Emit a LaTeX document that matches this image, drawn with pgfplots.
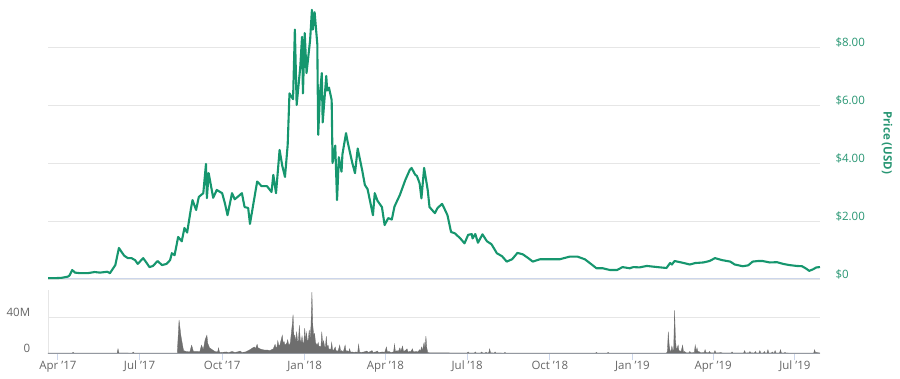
\documentclass[border=0pt]{standalone}
\usepackage{fontspec}
\setmainfont{Open Sans}
\usepackage{pgfplots}
\pgfplotsset{compat=1.18}
\definecolor{pricegreen}{RGB}{22,150,110}
\definecolor{lblgreen}{RGB}{40,150,115}
\definecolor{gridgray}{RGB}{230,230,230}
\definecolor{axisgray}{RGB}{204,214,235}
\definecolor{volgray}{RGB}{110,110,110}
\definecolor{ticktext}{RGB}{102,102,102}
\begin{document}
\begin{tikzpicture}[font=\fontsize{11.5}{13}\selectfont]
\path[use as bounding box] (0,0) rectangle (900pt,379pt);
% ---------- price panel ----------
\begin{axis}[
  at={(48pt,100pt)}, anchor=south west, scale only axis,
  width=772pt, height=272.6pt,
  xmin=-11, xmax=849, ymin=0, ymax=9.4,
  axis x line*=bottom, axis y line*=right,
  x axis line style={draw=axisgray, line width=1pt, -},
  y axis line style={draw=none},
  xtick=\empty,
  ytick={0,2,4,6,8},
  yticklabels={\$0,\$2.00,\$4.00,\$6.00,\$8.00},
  major tick length=0pt,
  ymajorgrids, grid style={gridgray, line width=0.8pt},
  yticklabel style={anchor=west, xshift=12pt, yshift=5pt, text=lblgreen},
  clip=false,
]
\addplot[pricegreen, line width=2.1pt, line join=round] coordinates {
(-11,0.03)(-3,0.03)(4,0.04)(11,0.08)(13,0.12)(16,0.31)(19,0.22)(25,0.2)(33,0.2)
(41,0.24)(47,0.22)(55,0.25)(58,0.2)(64,0.48)(68,1.07)(71,0.93)(74,0.8)(78,0.72)
(82,0.72)(86,0.65)(89,0.52)(95,0.72)(99,0.55)(102,0.41)(106,0.45)(111,0.62)
(116,0.48)(121,0.52)(125,0.65)(127,0.89)(130,0.82)(134,1.45)(138,1.3)(141,1.76)
(144,1.6)(148,2.38)(150,2.72)(154,2.38)(157,2.83)(162,2.96)(165,3.97)(166,2.79)
(168,3.65)(173,2.8)(177,3.07)(183,2.96)(186,2.62)(189,2.2)(194,2.96)(197,2.75)
(201,2.85)(205,2.96)(208,2.48)(212,2.45)(214,1.9)(217,2.45)(222,3.36)(227,3.2)
(233,3.2)(238,3.0)(240,3.59)(243,2.96)(247,4.45)(250,3.9)(253,3.52)(256,4.62)
(258,6.4)(262,6.2)(264,8.6)(266,6.0)(270,7.3)(272,8.35)(273,6.4)(275,8.48)(277,7.1)
(281,8.24)(283,9.28)(284,8.6)(286,9.2)(289,8.1)(290,4.97)(292,6.4)(294,7.1)(295,5.4)
(299,7.0)(300,6.5)(302,6.6)(305,6.17)(306,4.0)(309,4.6)(311,2.72)(313,4.2)
(316,3.7)(317,4.3)(321,5.03)(323,4.7)(328,4.0)(331,3.65)(334,4.5)(339,3.75)
(342,3.24)(345,3.1)(351,2.2)(353,2.96)(356,2.7)(361,2.48)(364,1.86)(368,2.1)
(372,2.05)(375,2.5)(381,2.9)(387,3.41)(392,3.76)(394,3.83)(398,3.6)(400,3.55)
(403,3.3)(405,2.78)(408,3.83)(412,3.07)(414,2.48)(420,2.27)(423,2.45)(428,2.59)
(431,2.4)(434,2.2)(438,1.62)(442,1.58)(448,1.41)(453,1.23)(457,1.52)(461,1.55)
(462,1.4)(465,1.55)(468,1.25)(473,1.54)(478,1.3)(483,1.2)(489,0.89)(495,0.78)
(500,0.6)(506,0.68)(512,0.9)(518,0.85)(524,0.72)(529,0.6)(537,0.68)(548,0.68)
(559,0.68)(570,0.77)(579,0.77)(587,0.68)(593,0.54)(600,0.37)(607,0.37)(615,0.31)
(623,0.31)(629,0.41)(637,0.37)(641,0.41)(648,0.4)(656,0.45)(665,0.42)(671,0.4)(678,0.38)
(682,0.55)(684,0.5)(687,0.62)(696,0.56)(704,0.5)(710,0.55)(719,0.57)(726,0.62)
(732,0.72)(740,0.65)(749,0.6)(754,0.5)(757,0.48)(763,0.44)(769,0.47)(774,0.6)
(780,0.62)(785,0.62)(793,0.57)(801,0.58)(808,0.52)(815,0.48)(823,0.45)(829,0.44)
(834,0.35)(837,0.28)(841,0.33)(845,0.4)(849,0.41)
};
\node[rotate=-90, font=\fontsize{11.5}{13}\selectfont\bfseries, text=lblgreen]
  at (axis description cs:1.087,0.5) {Price (USD)};
\end{axis}
% ---------- volume panel ----------
\begin{axis}[
  at={(48pt,25.7pt)}, anchor=south west, scale only axis,
  width=772pt, height=63pt,
  xmin=-11, xmax=849, ymin=0, ymax=70,
  axis x line*=bottom, axis y line*=left,
  x axis line style={draw=axisgray, line width=0.8pt, -},
  y axis line style={draw=gridgray, line width=0.8pt, -},
  xtick={0,91,183,275,365,456,548,640,730,821},
  xticklabels={Apr '17,Jul '17,Oct '17,Jan '18,Apr '18,Jul '18,Oct '18,Jan '19,Apr '19,Jul '19},
  xtick style={draw=axisgray, line width=0.8pt},
  x tick label style={text=ticktext},
  tick align=outside, xtick pos=bottom,
  major x tick style={/pgfplots/major tick length=7pt},
  ytick={0,40}, yticklabels={0,40M},
  ytick style={draw=none},
  ymajorgrids, grid style={gridgray, line width=0.8pt},
  yticklabel style={anchor=east, xshift=-10pt, yshift=5pt, text=ticktext},
  clip=false,
]
\addplot[fill=volgray, draw=volgray, line width=0.3pt] coordinates {
(-11,0.3)(10,0.3)(16,0.3)(17,1.2)(18,0.3)(66,0.3)(67,5)(68,0.4)(83,0.3)(84,1.3)(85,0.3)
(133,0.3)(135,37)(137,20)(138,14)(140,3)(143,2)(147,1.5)(149,9)(151,2)(156,2)(158,1.5)
(160,9)(162,4)(164,15)(166,20)(167,11)(169,6)(172,4)(175,2)(178,1.5)(179,6)(180,1.2)
(182,1)(188,1.5)(190,0.8)(194,2)(197,1)(200,1.5)(203,2.5)(205,1)(209,1.5)(212,3)(214,4)
(217,6)(219,7)(220,5)(222,10)(223,6)(225,5)(228,4)(231,3.5)(234,3.5)(236,3)(238,4)
(240,5)(242,10)(243,6)(244,7)(245,14)(246,9)(247,8)(248,12)(250,20)(251,11)(252,13)
(253,9)(254,10)(255,11)(256,15)(257,10)(258,9)(259,12)(261,31)(262,43)(263,18)(264,20)
(265,12)(266,24)(267,13)(268,14)(269,31)(270,15)(271,12)(272,19)(273,11)(274,12)
(275,28)(276,14)(277,23)(278,13)(279,15)(280,26)(281,16)(282,31)(283,68)(284,31)
(285,20)(286,22)(287,12)(288,10)(289,9)(290,12)(291,7)(292,8)(293,6)(294,24)(295,10)
(296,14)(297,8)(298,6)(299,19)(300,7)(301,9)(302,4)(303,5)(304,3)(305,12)(306,4)
(307,3)(309,7)(310,2)(311,3)(312,2)(314,9)(315,2)(316,3)(318,1.5)(320,9)(321,2)(322,3)
(324,1.5)(325,5)(326,1.2)(328,1.5)(330,1)(332,1.5)(334,1)(335,10)(336,1.5)(338,1)
(341,1.5)(344,2.5)(346,1)(350,3)(351,1)(354,1.5)(356,2.5)(357,1)(362,1.5)(364,1)
(366,7)(367,1.5)(369,2)(371,1)(374,1.5)(375,10)(376,2)(378,3)(379,1.5)(381,6)(382,2)
(384,8)(385,2)(387,3)(389,5)(390,1.5)(392,2)(393,1.5)(395,5)(396,1.5)(399,2)(401,1.5)
(403,4)(404,2)(405,7)(406,3)(408,12)(409,5)(410,19)(411,6)(412,1)(414,0.6)(430,0.5)
(440,0.4)(456,0.4)(457,1.5)(458,0.4)(464,0.4)(465,1.5)(466,0.4)(471,0.4)(472,1.5)
(473,0.4)(476,0.4)(477,1.2)(478,0.4)(480,0.5)(481,5)(482,0.5)(486,0.4)(487,1.5)
(488,0.4)(497,0.3)(498,1)(499,0.3)(599,0.3)(600,1)(601,0.3)(612,0.3)(613,1)(614,0.3)
(678,0.3)(679,2)(680,24)(681,9)(682,3)(683,2)(684,8)(685,3)(686,4)(687,48)(688,15)
(689,4)(690,6)(691,9)(692,2)(693,3)(694,1)(696,9)(697,1)(698,2)(700,0.6)(703,0.6)
(704,2)(705,0.6)(709,0.8)(710,9)(711,2)(712,6)(713,1.5)(714,2)(716,0.6)(720,0.8)
(721,4)(722,0.8)(725,0.6)(726,2)(727,0.6)(731,0.6)(732,3)(733,0.6)(737,0.5)(738,1)
(740,0.4)(750,0.4)(751,1.5)(752,0.4)(764,0.4)(765,3)(766,0.4)(770,0.5)(771,2)(772,0.5)
(776,0.4)(777,2)(778,0.4)(781,0.4)(782,3)(783,0.4)(786,0.4)(787,2)(788,0.4)(790,0.4)
(791,4)(792,0.4)(795,0.4)(796,1.5)(797,0.4)(798,0.4)(799,3)(800,0.4)(804,0.4)(805,4)
(806,0.4)(809,0.4)(810,1)(811,0.4)(815,0.3)(842,0.3)(843,4)(844,0.5)(845,1)(849,0.3)
} \closedcycle;
\end{axis}
\end{tikzpicture}
\end{document}
